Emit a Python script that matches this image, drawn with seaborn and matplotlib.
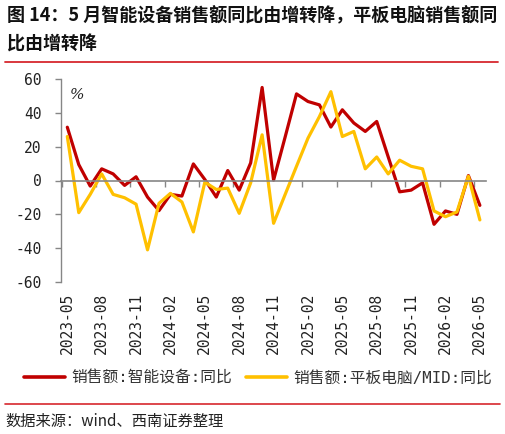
import matplotlib
matplotlib.use("Agg")
import matplotlib.pyplot as plt
import seaborn as sns
import pandas as pd
from matplotlib.lines import Line2D
from matplotlib.ticker import FixedLocator

months = ["2023-05","2023-06","2023-07","2023-08","2023-09","2023-10","2023-11","2023-12",
          "2024-01","2024-02","2024-03","2024-04","2024-05","2024-06","2024-07","2024-08",
          "2024-09","2024-10","2024-11","2024-12","2025-01","2025-02","2025-03","2025-04",
          "2025-05","2025-06","2025-07","2025-08","2025-09","2025-10","2025-11","2025-12",
          "2026-01","2026-02","2026-03","2026-04","2026-05"]
smart_device = [31.5, 9.4, -3.3, 6.9, 3.9, -2.9, 2.2, -9.8,
                -17.8, -8.2, -9.2, 9.8, 0.6, -9.8, 5.9, -5.7,
                10.4, 55.0, 0.2, 25.5, 51.2, 46.7, 44.7, 31.6,
                41.8, 34.0, 29.0, 34.9, 14.0, -6.7, -5.7, -1.4,
                -25.9, -18.0, -20.0, 2.9, -14.7]
tablet = [26.0, -19.0, -8.2, 3.9, -8.2, -10.2, -14.0, -41.0,
          -13.5, -7.6, -12.7, -30.4, -1.0, -5.3, -4.5, -19.4,
          -1.4, 27.0, -25.3, -8.4, 8.4, 25.0, 37.8, 52.5,
          26.0, 29.0, 6.9, 13.9, 3.9, 12.0, 8.4, 6.9,
          -18.0, -21.4, -18.6, 2.5, -23.3]
series_names = ["销售额:智能设备:同比", "销售额:平板电脑/MID:同比"]
colors = ["#C00000", "#FFC000"]
label_every = 3
yticks = [-60, -40, -20, 0, 20, 40, 60]

sns.set_theme(style="white")
plt.rcParams['font.family'] = ['DejaVu Sans Mono', 'Noto Sans CJK SC']
plt.rcParams['axes.unicode_minus'] = False

idx = list(range(len(months)))
df = pd.DataFrame({
    "pos": idx * 2,
    "value": smart_device + tablet,
    "series": [series_names[0]] * len(months) + [series_names[1]] * len(months),
})

W, H = 506, 434
fig = plt.figure(figsize=(W / 100, H / 100), dpi=100)
ax = fig.add_axes([61 / W, (H - 282) / H, 424.6 / W, 203 / H])

sns.lineplot(data=df, x="pos", y="value", hue="series", palette=colors,
             linewidth=2.3, ax=ax, legend=False, sort=False)

ax.set_xlim(-0.55, len(months) - 0.5)
ax.set_ylim(-60, 60)
ax.set_xlabel("")
ax.set_ylabel("")

for s in ["top", "right"]:
    ax.spines[s].set_visible(False)
ax.spines["left"].set_color("#868686")
ax.spines["left"].set_linewidth(1.0)
ax.spines["bottom"].set_position(("data", 0))
ax.spines["bottom"].set_color("#868686")
ax.spines["bottom"].set_linewidth(1.2)

ax.set_yticks(yticks)
ax.set_yticklabels([str(v) for v in yticks], fontsize=10.5, color="#222222")
ax.tick_params(axis="y", direction="out", length=4, width=1, color="#868686", pad=10, left=True)

lab_pos = idx[::label_every]
ax.set_xticks(lab_pos)
ax.set_xticklabels(months[::label_every], rotation=90, fontsize=10.5, color="#222222",
                   va="top", ha="center")
ax.tick_params(axis="x", which="major", length=0, pad=80.5, bottom=True)
ax.xaxis.set_minor_locator(FixedLocator([p - 0.5 for p in lab_pos]))
ax.tick_params(axis="x", which="minor", direction="out", length=4, width=1,
               color="#868686", bottom=True)
ax.grid(False)

ax.text(0.022, 0.955, "%", transform=ax.transAxes, fontsize=11, style="italic",
        family="DejaVu Serif", color="#222222", va="top", ha="left")

# Title
fig.text(7 / W, 1 - 16 / H, "图 14：5 月智能设备销售额同比由增转降，平板电脑销售额同",
         fontsize=13.0, fontweight="bold", family=["Noto Sans CJK SC"], va="center", ha="left",
         color="#111111")
fig.text(7 / W, 1 - 44 / H, "比由增转降",
         fontsize=13.0, fontweight="bold", family=["Noto Sans CJK SC"], va="center", ha="left",
         color="#111111")
fig.add_artist(Line2D([5 / W, 498 / W], [1 - 62.3 / H] * 2, color="#D7282E", linewidth=1.3,
                      transform=fig.transFigure))

# Legend
handles = [Line2D([], [], color=c, linewidth=2.6) for c in colors]
fig.legend(handles, series_names, loc="center", bbox_to_anchor=(258 / W, 1 - 378 / H),
           ncol=2, frameon=False, handlelength=2.6, handletextpad=0.4, columnspacing=0.9,
           prop={"family": ["DejaVu Sans Mono", "Noto Sans CJK SC"], "size": 11.3},
           labelcolor="#333333")

fig.add_artist(Line2D([5 / W, 500 / W], [1 - 403.5 / H] * 2, color="#D7282E", linewidth=1.2,
                      transform=fig.transFigure))
fig.text(5 / W, 1 - 421 / H, "数据来源：wind、西南证券整理", fontsize=11, style="italic",
         family=["Noto Sans CJK SC", "DejaVu Sans"], va="center", ha="left", color="#222222")

fig.savefig("out.png", dpi=100)
